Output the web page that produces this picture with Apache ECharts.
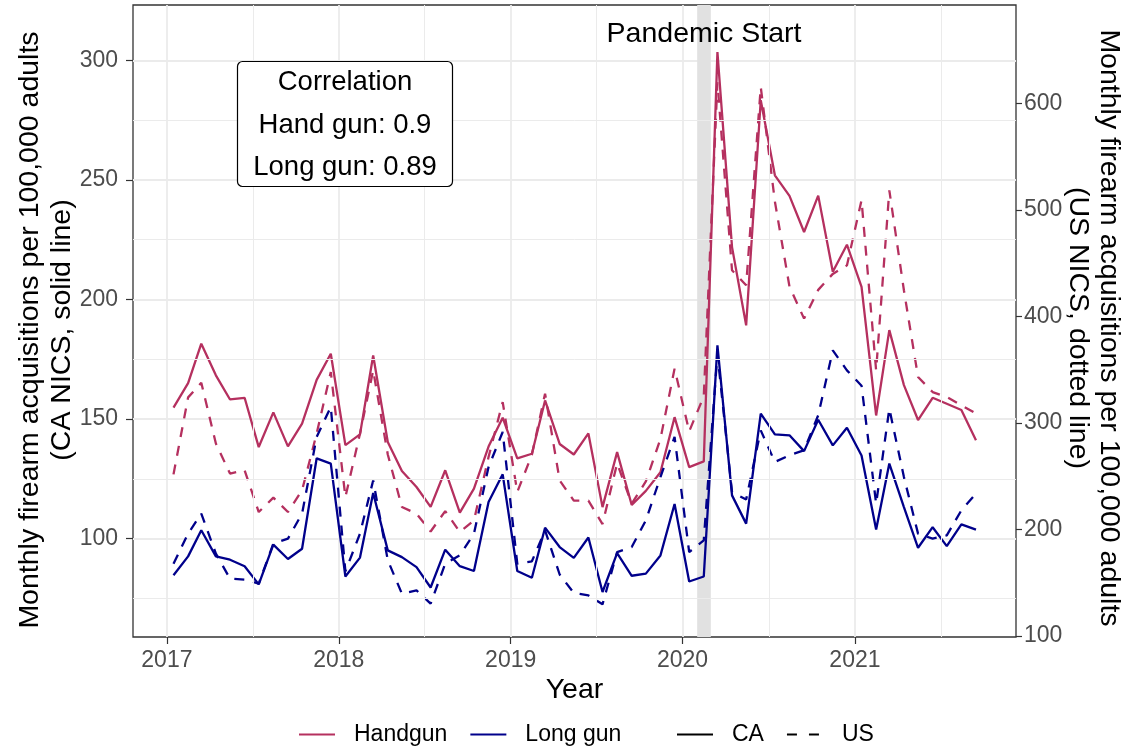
<!DOCTYPE html>
<html>
<head>
<meta charset="utf-8">
<script src="https://cdn.jsdelivr.net/npm/echarts@6/dist/echarts.min.js"></script>
<style>
html,body{margin:0;padding:0;background:#fff;}
#chart{width:1135px;height:748px;}
</style>
</head>
<body>
<div id="chart"></div>
<script>
// ---------- data ----------
const months = [
  '2017-01','2017-02','2017-03','2017-04','2017-05','2017-06','2017-07','2017-08','2017-09','2017-10','2017-11','2017-12',
  '2018-01','2018-02','2018-03','2018-04','2018-05','2018-06','2018-07','2018-08','2018-09','2018-10','2018-11','2018-12',
  '2019-01','2019-02','2019-03','2019-04','2019-05','2019-06','2019-07','2019-08','2019-09','2019-10','2019-11','2019-12',
  '2020-01','2020-02','2020-03','2020-04','2020-05','2020-06','2020-07','2020-08','2020-09','2020-10','2020-11','2020-12',
  '2021-01','2021-02','2021-03','2021-04','2021-05','2021-06','2021-07','2021-08','2021-09'
];
// CA NICS (left axis, solid)
const caHandgun = [
  154.8,165.0,181.5,168.3,158.2,158.9,138.3,152.8,138.6,148.1,166.4,177.3,
  139.1,143.6,176.6,140.4,128.3,121.6,113.3,128.6,110.9,120.9,138.5,150.6,
  133.6,135.5,157.8,139.6,135.2,144.0,113.2,136.2,114.1,120.0,127.8,150.8,
  129.9,132.3,303.4,221.9,189.2,283.3,251.9,243.3,228.2,243.4,211.6,222.9,
  205.3,151.5,187.2,164.2,149.6,158.9,156.4,153.8,141.1
];
const caLonggun = [
  84.7,92.6,103.5,92.6,91.2,88.5,80.9,97.5,91.5,95.8,133.6,131.4,
  84.2,92.1,119.1,95.1,92.3,88.1,79.6,95.4,88.5,86.5,115.3,126.9,
  86.5,83.7,104.6,96.5,92.0,100.5,77.7,94.0,84.5,85.4,93.0,114.5,
  82.1,84.2,180.8,118.1,106.3,152.3,143.6,143.2,136.6,149.7,139.0,146.4,
  134.8,103.8,131.4,113.2,96.2,104.8,96.9,106.0,103.8
];
// US NICS (right axis, dashed)
const usHandgun = [
  251.7,324.0,337.7,280.6,252.4,255.5,216.3,229.8,216.3,236.7,290.0,347.8,
  230.4,290.0,349.4,270.4,221.0,214.8,198.0,217.2,197.5,208.5,268.0,319.6,
  235.1,270.0,327.5,246.0,227.0,227.0,205.0,262.0,224.2,245.0,285.0,351.0,
  292.0,325.0,620.0,443.4,429.3,615.6,508.0,428.0,398.0,425.0,440.0,448.0,
  509.2,349.4,518.5,424.6,343.1,329.0,324.3,316.6,308.8
];
const usLonggun = [
  167.8,196.0,214.8,177.2,153.7,152.8,149.0,186.6,191.3,214.8,286.8,315.0,
  160.6,196.0,246.0,171.0,139.6,142.7,130.2,167.8,175.6,196.0,258.6,291.5,
  167.8,170.0,199.1,157.6,140.2,138.0,129.6,178.7,183.4,208.5,249.2,286.8,
  178.7,189.7,365.0,235.0,228.0,293.0,263.3,269.6,274.3,307.2,368.2,349.4,
  335.0,224.2,313.4,249.2,196.0,191.3,194.4,217.9,233.6
];
// tick labels / guides
const xTicks = ['2017-01-01','2018-01-01','2019-01-01','2020-01-01','2021-01-01'];
const xMinorTicks = ['2017-07-02 12:00','2018-07-02 12:00','2019-07-02 12:00','2020-07-02 12:00','2021-07-02 12:00'];
const leftTicks = [100,150,200,250,300];
const leftMinorTicks = [75,125,175,225,275];
const rightTicks = [100,200,300,400,500,600];
const pandemic = ['2020-02-01','2020-03-01'];
const correlationLines = ['Correlation','Hand gun: 0.9','Long gun: 0.89'];

// ---------- helpers ----------
function ts(s){
  const [d,t] = s.split(' ');
  const [y,m,dd] = d.split('-').map(Number);
  let hh = 0, mm = 0;
  if (t) { [hh,mm] = t.split(':').map(Number); }
  return new Date(y, m-1, dd, hh, mm).getTime();
}
function pairs(arr){ return months.map((m,i)=>[ts(m+'-15'), arr[i]]); }

const RED = '#B5305F';
const BLUE = '#00008B';
const FONT = 'Liberation Sans';
const DASH = [10, 9];
const TITLE = 28.5;

const chart = echarts.init(document.getElementById('chart'), null, {renderer:'canvas'});

const legendCommon = {
  top: 723, orient: 'horizontal', padding: 0,
  itemWidth: 36, itemHeight: 24, itemGap: 22, selectedMode: false,
  itemStyle: {color: 'transparent', opacity: 0, borderWidth: 0},
  textStyle: {fontSize: 23, color: '#000', fontFamily: FONT, padding: [0,0,0,14]}
};

const option = {
  animation: false,
  backgroundColor: '#ffffff',
  textStyle: {fontFamily: FONT},
  grid: {
    left: 133, right: 119, top: 5, bottom: 111,
    containLabel: false, outerBoundsMode: 'none',
    show: true, borderColor: '#333333', borderWidth: 1.3, backgroundColor: '#ffffff'
  },
  xAxis: {
    type: 'value',
    min: ts('2016-10-21'), max: ts('2021-12-09'),
    axisLine: {show: false},
    axisTick: {show: true, length: 7, lineStyle: {color: '#333333', width: 1.2}, customValues: xTicks.map(ts)},
    axisLabel: {color: '#4d4d4d', fontSize: 23, fontFamily: FONT, margin: 12, customValues: xTicks.map(ts),
      formatter: v => String(new Date(v).getFullYear())},
    splitLine: {show: true, lineStyle: {color: '#ebebeb', width: 1.8}},
    name: 'Year', nameLocation: 'middle', nameGap: 39, nameMoveOverlap: false,
    nameTextStyle: {fontSize: TITLE, color: '#000', fontFamily: FONT}
  },
  yAxis: [
    {
      type: 'value', position: 'left', min: 58.9, max: 323.1,
      axisLine: {show: false},
      axisTick: {show: true, length: 7, lineStyle: {color: '#333333', width: 1.2}, customValues: leftTicks},
      axisLabel: {color: '#4d4d4d', fontSize: 23, fontFamily: FONT, margin: 15, customValues: leftTicks},
      splitLine: {show: true, lineStyle: {color: '#ebebeb', width: 1.8}},
      name: 'Monthly firearm acquisitions per 100,000 adults\n(CA NICS, solid line)',
      nameLocation: 'middle', nameGap: 55, nameMoveOverlap: false,
      nameTextStyle: {fontSize: TITLE, color: '#000', fontFamily: FONT, lineHeight: 32, padding: [0,18,0,0]}
    },
    {
      type: 'value', position: 'right', min: 98.9, max: 692.6,
      axisLine: {show: false},
      axisTick: {show: true, length: 6, lineStyle: {color: '#333333', width: 1.2}, customValues: rightTicks},
      axisLabel: {color: '#4d4d4d', fontSize: 23, fontFamily: FONT, margin: 8, customValues: rightTicks},
      splitLine: {show: false},
      name: 'Monthly firearm acquisitions per 100,000 adults\n(US NICS, dotted line)',
      nameLocation: 'middle', nameGap: 46, nameRotate: -90, nameMoveOverlap: false,
      nameTextStyle: {fontSize: TITLE, color: '#000', fontFamily: FONT, lineHeight: 31, padding: [0,0,0,14]}
    }
  ],
  legend: [
    Object.assign({data: ['Handgun','Long gun'], left: 298}, legendCommon),
    Object.assign({data: ['CA','US'], left: 676}, legendCommon)
  ],
  series: [
    {
      name: 'guides', type: 'line', data: [], z: 1, silent: true, yAxisIndex: 0,
      markLine: {
        silent: true, symbol: ['none','none'], label: {show: false}, animation: false,
        lineStyle: {color: '#ebebeb', width: 1, type: 'solid'},
        emphasis: {disabled: true},
        data: leftMinorTicks.map(v => ({yAxis: v})).concat(xMinorTicks.map(s => ({xAxis: ts(s)})))
      },
      markArea: {
        silent: true, itemStyle: {color: '#e1e1e1'}, label: {show: false},
        data: [[{xAxis: ts(pandemic[0])}, {xAxis: ts(pandemic[1])}]]
      }
    },
    {name: 'CA Handgun', type: 'line', yAxisIndex: 0, z: 3, symbol: 'none', data: pairs(caHandgun),
      lineStyle: {color: RED, width: 2.3}, itemStyle: {color: RED}},
    {name: 'US Handgun', type: 'line', yAxisIndex: 1, z: 3, symbol: 'none', data: pairs(usHandgun),
      lineStyle: {color: RED, width: 2.3, type: DASH}, itemStyle: {color: RED}},
    {name: 'CA Long gun', type: 'line', yAxisIndex: 0, z: 3, symbol: 'none', data: pairs(caLonggun),
      lineStyle: {color: BLUE, width: 2.3}, itemStyle: {color: BLUE}},
    {name: 'US Long gun', type: 'line', yAxisIndex: 1, z: 3, symbol: 'none', data: pairs(usLonggun),
      lineStyle: {color: BLUE, width: 2.3, type: DASH}, itemStyle: {color: BLUE}},
    // legend keys
    {name: 'Handgun', type: 'line', data: [], symbol: 'none', lineStyle: {color: RED, width: 2.5}, itemStyle: {color: RED}},
    {name: 'Long gun', type: 'line', data: [], symbol: 'none', lineStyle: {color: BLUE, width: 2.5}, itemStyle: {color: BLUE}},
    {name: 'CA', type: 'line', data: [], symbol: 'none', lineStyle: {color: '#000', width: 2.5}, itemStyle: {color: '#000'}},
    {name: 'US', type: 'line', data: [], symbol: 'none', lineStyle: {color: '#000', width: 2.5, type: [10, 12]}, itemStyle: {color: '#000'}}
  ],
  graphic: [
    {
      type: 'text', x: 704, y: 34, z: 20, silent: true,
      style: {text: 'Pandemic Start', fontSize: 28.5, fontFamily: FONT, fill: '#000', align: 'center', verticalAlign: 'middle'}
    },
    {
      type: 'rect', z: 20, silent: true,
      shape: {x: 237.5, y: 61.5, width: 215, height: 125, r: 5},
      style: {fill: '#ffffff', stroke: '#000000', lineWidth: 1.2}
    },
    {
      type: 'text', x: 345, y: 82, z: 21, silent: true,
      style: {text: correlationLines[0], fontSize: 27.5, fontFamily: FONT, fill: '#000', align: 'center', verticalAlign: 'middle'}
    },
    {
      type: 'text', x: 345, y: 125, z: 21, silent: true,
      style: {text: correlationLines[1], fontSize: 27.5, fontFamily: FONT, fill: '#000', align: 'center', verticalAlign: 'middle'}
    },
    {
      type: 'text', x: 345, y: 167, z: 21, silent: true,
      style: {text: correlationLines[2], fontSize: 27.5, fontFamily: FONT, fill: '#000', align: 'center', verticalAlign: 'middle'}
    }
  ]
};
chart.setOption(option);
</script>
</body>
</html>
